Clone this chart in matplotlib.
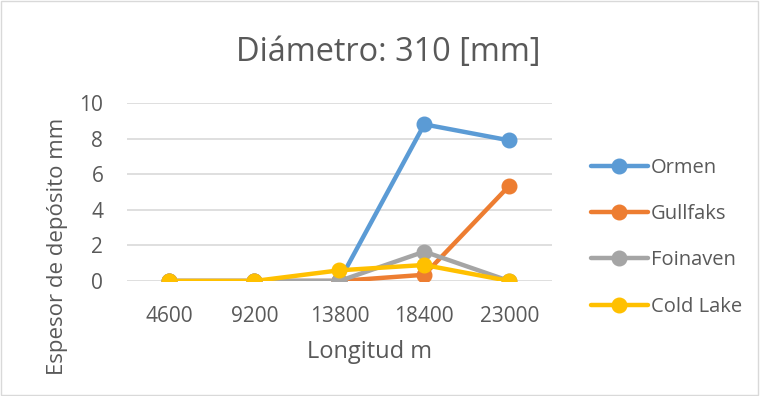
import matplotlib
matplotlib.use("Agg")
import matplotlib.pyplot as plt
import numpy as np

# data
longitudes = ["4600", "9200", "13800", "18400", "23000"]
ormen = [0, 0, 0, 8.8, 7.9]
gullfaks = [0, 0, 0, 0.35, 5.35]
foinaven = [0, 0, 0, 1.65, 0]
cold_lake = [0, 0, 0.6, 0.9, 0]

series = [("Ormen", ormen, "#5B9BD5"),
          ("Gullfaks", gullfaks, "#ED7D31"),
          ("Foinaven", foinaven, "#A5A5A5"),
          ("Cold Lake", cold_lake, "#FFC000")]

plt.rcParams['font.family'] = ['Open Sans', 'DejaVu Sans']
txt = "#595959"

fig = plt.figure(figsize=(7.6, 3.96), dpi=100)
ax = fig.add_axes([0.167, 0.2904, 0.559, 0.4495])

x = np.arange(len(longitudes))
for name, vals, col in series:
    ax.plot(x, vals, color=col, lw=3.2, marker="o", markersize=10.5,
            label=name, solid_capstyle="round")

ax.set_xlim(-0.5, len(longitudes) - 0.5)
ax.set_ylim(0, 10)
ax.set_yticks(np.arange(0, 11, 2))
ax.set_xticks(x)
ax.set_xticklabels(longitudes)
ax.yaxis.grid(True, color="#D9D9D9", lw=1.2)
ax.set_axisbelow(True)
for s in ax.spines.values():
    s.set_visible(False)
ax.tick_params(length=0, labelsize=15, colors=txt)
ax.tick_params(axis="x", pad=18)
ax.tick_params(axis="y", pad=17)
for lbl in ax.get_xticklabels() + ax.get_yticklabels():
    lbl.set_clip_on(False)

fig.text(0.486, 0.111, "Longitud m", fontsize=17, color=txt,
         ha="center", va="center")
fig.text(0.076, 0.379, "Espesor de depósito mm", fontsize=16, color=txt,
         ha="center", va="center", rotation=90)
fig.text(0.511, 0.868, "Diámetro: 310 [mm]", fontsize=23.4, color=txt,
         ha="center", va="center")

leg = ax.legend(loc="center left", bbox_to_anchor=(1.05, 0.245), frameon=False,
                fontsize=14.5, labelcolor=txt, handlelength=2.8,
                handletextpad=0.15, labelspacing=1.3)

fig.patches.append(plt.Rectangle((0.001, 0.002), 0.997, 0.996, transform=fig.transFigure,
                                 fill=False, edgecolor="#D9D9D9", lw=1))

fig.savefig("out.png", dpi=100)
